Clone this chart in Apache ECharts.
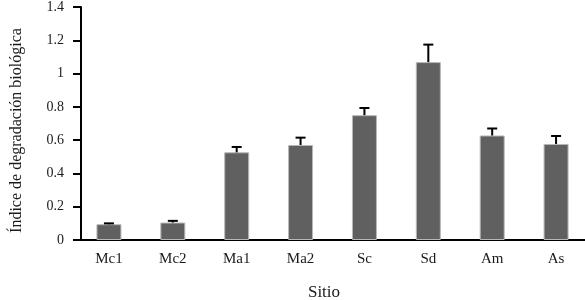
<!DOCTYPE html>
<html>
<head>
<meta charset="utf-8">
<script src="https://cdn.jsdelivr.net/npm/echarts@6/dist/echarts.min.js"></script>
<style>html,body{margin:0;padding:0;background:#fff}#c{width:585px;height:300px}</style>
</head>
<body>
<div id="c"></div>
<script>
var categories = ['Mc1', 'Mc2', 'Ma1', 'Ma2', 'Sc', 'Sd', 'Am', 'As'];
var values = [0.095, 0.105, 0.527, 0.571, 0.750, 1.069, 0.628, 0.577];
var errors = [0.005, 0.010, 0.032, 0.044, 0.043, 0.105, 0.042, 0.048];
var yTicks = { min: 0, max: 1.4, interval: 0.2 };

var font = '"Liberation Serif", "Times New Roman", serif';
var chart = echarts.init(document.getElementById('c'), null, { renderer: 'canvas' });
chart.setOption({
  animation: false,
  backgroundColor: '#fff',
  grid: { left: 77, right: -3, top: 7, bottom: 60, containLabel: false, outerBoundsMode: 'none' },
  xAxis: {
    type: 'category',
    data: categories,
    axisLine: { lineStyle: { color: '#000', width: 2 } },
    axisTick: { show: false },
    axisLabel: { color: '#1a1a1a', fontFamily: font, fontSize: 15, margin: 12 },
    name: 'Sitio',
    nameLocation: 'middle',
    nameGap: 44,
    nameTextStyle: { color: '#1a1a1a', fontFamily: font, fontSize: 17, padding: [0, 17, 0, 0] }
  },
  yAxis: {
    type: 'value',
    min: yTicks.min, max: yTicks.max, interval: yTicks.interval,
    offset: -4,
    splitLine: { show: false },
    axisLine: { show: true, lineStyle: { color: '#000', width: 2 } },
    axisTick: { show: true, length: 8, lineStyle: { color: '#000', width: 2 } },
    axisLabel: { color: '#1a1a1a', fontFamily: font, fontSize: 14, margin: 17 },
    name: 'Índice de degradación biológica',
    nameLocation: 'middle',
    nameRotate: 90,
    nameGap: 56,
    nameTextStyle: { color: '#1a1a1a', fontFamily: font, fontSize: 16, padding: [0, 14, 0, 0] }
  },
  series: [
    {
      type: 'bar',
      data: values,
      barWidth: 25,
      itemStyle: { color: '#606060', borderColor: '#b8b8b8', borderWidth: 1 }
    },
    {
      type: 'custom',
      data: values.map(function (v, i) { return [i, v, v + errors[i]]; }),
      renderItem: function (params, api) {
        var i = api.value(0);
        var lo = api.coord([i, api.value(1)]);
        var hi = api.coord([i, api.value(2)]);
        var hw = 5;
        return {
          type: 'group',
          children: [
            { type: 'line', shape: { x1: lo[0], y1: lo[1], x2: hi[0], y2: hi[1] }, style: { stroke: '#000', lineWidth: 2 } },
            { type: 'line', shape: { x1: hi[0] - hw, y1: hi[1], x2: hi[0] + hw, y2: hi[1] }, style: { stroke: '#000', lineWidth: 2 } }
          ]
        };
      },
      z: 5
    }
  ]
});
</script>
</body>
</html>
